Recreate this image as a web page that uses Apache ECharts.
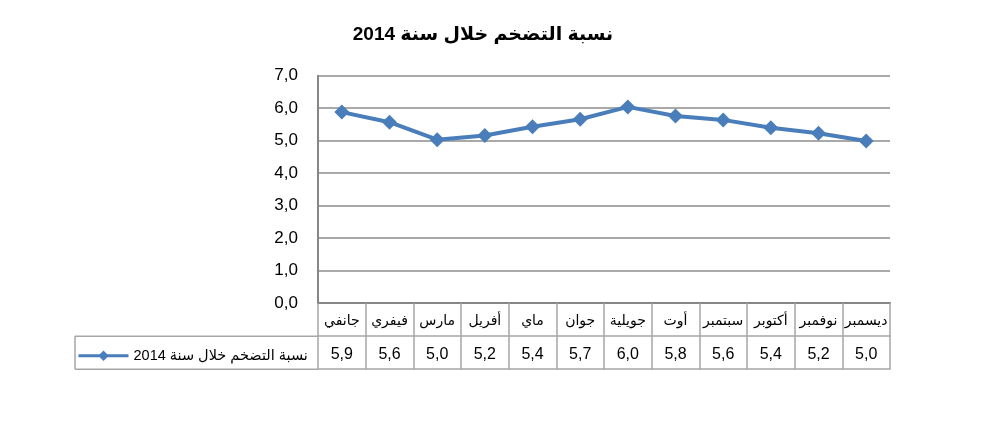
<!DOCTYPE html>
<html><head><meta charset="utf-8">
<script src="https://cdn.jsdelivr.net/npm/echarts@6/dist/echarts.min.js"></script>
<style>html,body{margin:0;padding:0;background:#fff}#c{width:985px;height:426px}</style>
</head><body><div id="c"></div>
<script>
const titleText = 'نسبة التضخم خلال سنة 2014';
const seriesName = 'نسبة التضخم خلال سنة 2014';
const months = ['جانفي','فيفري','مارس','أفريل','ماي','جوان','جويلية','أوت','سبتمبر','أكتوبر','نوفمبر','ديسمبر'];
const values = [5.88, 5.57, 5.03, 5.16, 5.43, 5.66, 6.04, 5.76, 5.64, 5.40, 5.23, 4.99];
const yTicks = [0, 1, 2, 3, 4, 5, 6, 7];

const fmt = v => v.toFixed(1).replace('.', ',');
const tableLabels = values.map(fmt);

const G = {left: 318, right: 95, top: 75.7, bottom: 122.8};
const rowH = 33;
const axisY = 426 - G.bottom;
const tableGray = '#a6a6a6';
const font = 'Arial, "Liberation Sans", "DejaVu Sans", sans-serif';

const chart = echarts.init(document.getElementById('c'));
chart.setOption({
  animation: false,
  backgroundColor: '#fff',
  title: {
    text: titleText, left: 478, top: 20, textAlign: 'center',
    textStyle: {fontFamily: font, fontSize: 19, fontWeight: 'bold', color: '#000'}
  },
  legend: {
    left: 72, top: axisY + rowH + 7, itemWidth: 50, itemHeight: 13, itemGap: 3,
    lineStyle: {width: 3},
    textStyle: {fontFamily: font, fontSize: 14.5, color: '#000'},
    data: [seriesName]
  },
  grid: {left: G.left, right: G.right, top: G.top, bottom: G.bottom},
  xAxis: [
    {
      type: 'category', data: months, position: 'bottom', boundaryGap: true,
      axisLine: {lineStyle: {color: '#868686', width: 2}},
      axisTick: {show: true, interval: 0, length: rowH * 2, lineStyle: {color: tableGray, width: 1.5}},
      axisLabel: {interval: 0, margin: 11, fontFamily: font, fontSize: 14, color: '#000'}
    },
    {
      type: 'category', data: tableLabels, position: 'bottom', offset: rowH, boundaryGap: true,
      axisLine: {lineStyle: {color: tableGray, width: 1.5}},
      axisTick: {show: false},
      axisLabel: {interval: 0, margin: 10, fontFamily: font, fontSize: 16, color: '#000'}
    },
    {
      type: 'category', data: tableLabels, position: 'bottom', offset: rowH * 2, boundaryGap: true,
      axisLine: {lineStyle: {color: tableGray, width: 1.5}},
      axisTick: {show: false},
      axisLabel: {show: false}
    }
  ],
  yAxis: {
    type: 'value', min: yTicks[0], max: yTicks[yTicks.length - 1], interval: 1,
    axisLine: {show: true, lineStyle: {color: '#868686', width: 2}},
    axisTick: {show: false},
    splitLine: {lineStyle: {color: '#8c8c8c', width: 1.5}},
    axisLabel: {margin: 20, fontFamily: font, fontSize: 17, color: '#000', formatter: v => fmt(v)}
  },
  graphic: [
    {type: 'line', silent: true, shape: {x1: 75, y1: axisY + rowH, x2: G.left, y2: axisY + rowH}, style: {stroke: tableGray, lineWidth: 1.5}},
    {type: 'line', silent: true, shape: {x1: 75, y1: axisY + rowH * 2, x2: G.left, y2: axisY + rowH * 2}, style: {stroke: tableGray, lineWidth: 1.5}},
    {type: 'line', silent: true, shape: {x1: 75, y1: axisY + rowH, x2: 75, y2: axisY + rowH * 2}, style: {stroke: tableGray, lineWidth: 1.5}}
  ],
  series: [{
    name: seriesName, type: 'line', data: values, xAxisIndex: 0,
    symbol: 'diamond', symbolSize: 15,
    lineStyle: {color: '#4a7ebb', width: 4},
    itemStyle: {color: '#4a7ebb'}
  }]
});
</script></body></html>
